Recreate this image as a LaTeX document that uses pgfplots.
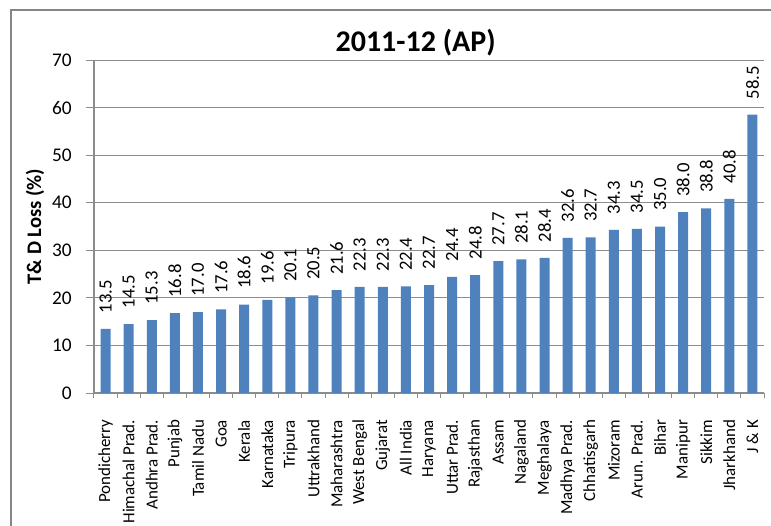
\documentclass[border=0pt]{standalone}
\usepackage{fontspec}
\setmainfont{Carlito}
\usepackage{pgfplots}
\pgfplotsset{compat=1.18}
\definecolor{barblue}{RGB}{79,129,189}
\definecolor{gridgray}{RGB}{140,140,140}
\definecolor{framegray}{RGB}{134,134,134}

\pgfplotstableread{
idx loss
0  13.5
1  14.5
2  15.3
3  16.8
4  17.0
5  17.6
6  18.6
7  19.6
8  20.1
9  20.5
10 21.6
11 22.3
12 22.3
13 22.4
14 22.7
15 24.4
16 24.8
17 27.7
18 28.1
19 28.4
20 32.6
21 32.7
22 34.3
23 34.5
24 35.0
25 38.0
26 38.8
27 40.8
28 58.5
}\tdloss

\newcommand\ticksize{\fontsize{14.5pt}{16pt}\selectfont}
\newcommand\catsize{\fontsize{12.7pt}{14pt}\selectfont}
\newcommand\valsize{\fontsize{14pt}{16pt}\selectfont}

\begin{document}
\begin{tikzpicture}
\useasboundingbox (-70.5pt,-99pt) rectangle (507.75pt,294.75pt);
% chart frame (left and top edges)
\draw[framegray, line width=1.3pt] (-62.25pt,-110pt) -- (-62.25pt,287.25pt) -- (520pt,287.25pt);
\begin{axis}[
  at={(0pt,0pt)}, anchor=south west, scale only axis,
  width=502.5pt, height=249.75pt,
  clip=false,
  ymin=0, ymax=70, ytick={0,10,...,70},
  xmin=-0.5, xmax=28.5,
  xtick={0,...,28},
  xticklabels={Pondicherry, Himachal Prad., Andhra Prad., Punjab, Tamil Nadu, Goa, Kerala, Karnataka, Tripura, Uttrakhand, Maharashtra, West Bengal, Gujarat, All India, Haryana, Uttar Prad., Rajasthan, Assam, Nagaland, Meghalaya, Madhya Prad., Chhatisgarh, Mizoram, Arun. Prad., Bihar, Manipur, Sikkim, Jharkhand, J \& K},
  minor xtick={-0.5,0.5,...,28.5},
  axis lines*=left,
  axis line style={gridgray, line width=0.9pt},
  ymajorgrids,
  major grid style={gridgray, line width=0.75pt},
  tick align=outside,
  major tick length=6pt,
  minor tick length=4pt,
  xtick style={draw=none},
  minor x tick style={draw=gridgray, line width=0.75pt},
  ytick style={gridgray, line width=0.75pt},
  /pgf/number format/assume math mode=true,
  tick label style={font=\ticksize},
  yticklabel style={inner sep=0pt, xshift=-10.5pt},
  xticklabel style={rotate=90, anchor=east, font=\catsize, inner sep=0pt, xshift=-14pt},
  title={2011-12 (AP)},
  title style={at={(axis description cs:0.48,1.027)}, anchor=center, font=\bfseries\fontsize{22.5pt}{24pt}\selectfont},
  ylabel={T\& D Loss (\%)},
  ylabel style={at={(axis description cs:-0.088,0.5)}, anchor=center, font=\bfseries\fontsize{15.5pt}{17pt}\selectfont},
  ybar, bar width=7.5pt,
  nodes near coords={\valsize\pgfmathprintnumber[fixed,fixed zerofill,precision=1]{\pgfplotspointmeta}},
  every node near coord/.append style={rotate=90, anchor=west, inner xsep=11.5pt, inner ysep=0pt, font=\valsize, black},
]
\addplot[fill=barblue, draw=none] table[x=idx, y=loss] {\tdloss};
\end{axis}
\end{tikzpicture}
\end{document}
